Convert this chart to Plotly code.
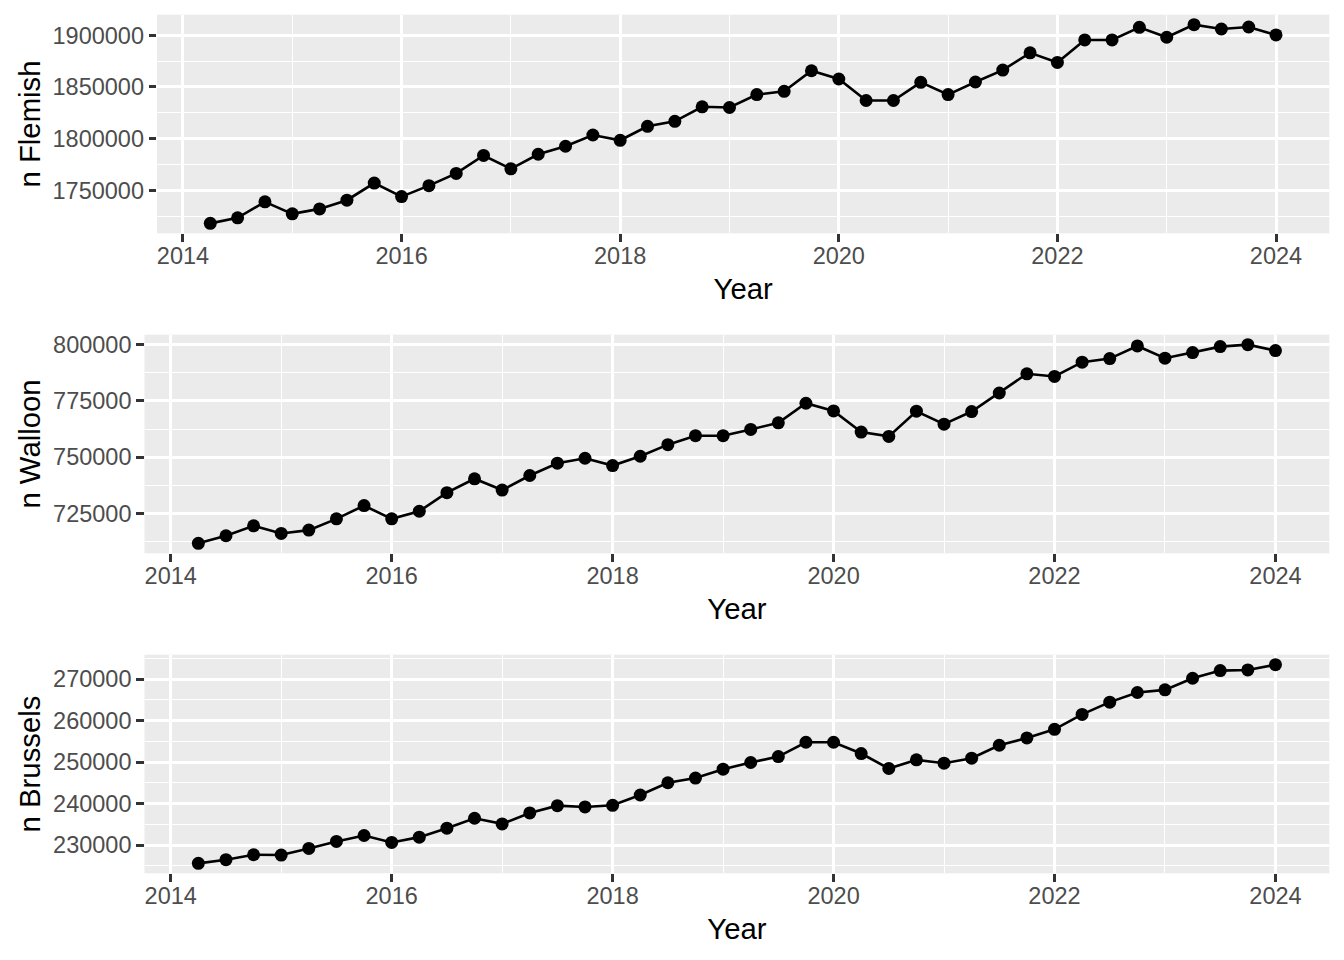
import plotly.graph_objects as go

year = [2014.25, 2014.5, 2014.75, 2015.0, 2015.25, 2015.5, 2015.75, 2016.0,
        2016.25, 2016.5, 2016.75, 2017.0, 2017.25, 2017.5, 2017.75, 2018.0,
        2018.25, 2018.5, 2018.75, 2019.0, 2019.25, 2019.5, 2019.75, 2020.0,
        2020.25, 2020.5, 2020.75, 2021.0, 2021.25, 2021.5, 2021.75, 2022.0,
        2022.25, 2022.5, 2022.75, 2023.0, 2023.25, 2023.5, 2023.75, 2024.0]

flemish = [1718000, 1723400, 1738800, 1727200, 1732000, 1740400, 1757000, 1743900,
           1754500, 1766300, 1783700, 1770800, 1784900, 1792600, 1803500, 1798400,
           1811900, 1816700, 1830800, 1830100, 1842600, 1845800, 1865700, 1857700,
           1836900, 1836900, 1854500, 1842600, 1854800, 1866300, 1883000, 1873700,
           1895500, 1895500, 1907700, 1898100, 1910300, 1906100, 1908000, 1900300]

walloon = [711770, 715150, 719560, 716180, 717650, 722650, 728530, 722650,
           726030, 734270, 740440, 735440, 741910, 747350, 749560, 746320,
           750440, 755590, 759560, 759560, 762350, 765290, 773970, 770590,
           761180, 759270, 770440, 764700, 770300, 778530, 787060, 785880,
           792200, 793820, 799410, 793970, 796470, 799120, 800000, 797350]

brussels = [225600, 226480, 227680, 227600, 229200, 230880, 232320, 230640,
            231920, 234080, 236480, 235120, 237760, 239520, 239200, 239600,
            242080, 245040, 246160, 248320, 249920, 251360, 254800, 254800,
            252080, 248480, 250560, 249760, 250960, 254080, 255840, 257920,
            261520, 264480, 266800, 267440, 270240, 272080, 272240, 273520]

x_ticks = [2014, 2016, 2018, 2020, 2022, 2024]

panels = [
    ("n Flemish", flemish, 50000),
    ("n Walloon", walloon, 25000),
    ("n Brussels", brussels, 10000),
]

# page body has an 8px margin: the figure starts at (8, 8) in the window
OFF = 8
W, H = 1328, 944
# pixel boxes of each panel in window coords: (left, right, top, bottom)
boxes = [
    (157, 1329.3, 14.7, 233.3),
    (144.5, 1329.3, 334.7, 553.3),
    (144.5, 1329.3, 654.7, 873.3),
]


def expand(vals, f=0.05):
    lo, hi = min(vals), max(vals)
    s = hi - lo
    return [lo - f * s, hi + f * s]


FONT = "Liberation Sans"
fig = go.Figure()

for i, (label, vals, step) in enumerate(panels):
    n = i + 1
    xa = "x" if n == 1 else f"x{n}"
    ya = "y" if n == 1 else f"y{n}"
    fig.add_trace(go.Scatter(
        x=year, y=vals, xaxis=xa, yaxis=ya, mode="lines+markers",
        line=dict(color="black", width=2.6),
        marker=dict(color="black", size=13, line=dict(width=0)),
        showlegend=False, hoverinfo="x+y",
    ))
    l, r, t, b = [v - OFF for v in boxes[i]]
    common = dict(
        showline=False, zeroline=False,
        showgrid=True, gridcolor="white", gridwidth=2.8,
        ticks="outside", ticklen=7.3, tickwidth=2.6, tickcolor="#333333",
        tickfont=dict(family=FONT, size=23.5, color="#4D4D4D"),
        title_font=dict(family=FONT, size=29.3, color="black"),
    )
    fig.layout[("xaxis" if n == 1 else f"xaxis{n}")] = dict(
        domain=[l / W, r / W], anchor=ya, range=expand(year),
        tickmode="array", tickvals=x_ticks, ticktext=[str(v) for v in x_ticks],
        minor=dict(dtick=1, tick0=2013, showgrid=True, gridcolor="white",
                   gridwidth=1.4, ticks=""),
        title=dict(text="Year", standoff=10),
        ticklabelstandoff=-6,
        **common,
    )
    fig.layout[("yaxis" if n == 1 else f"yaxis{n}")] = dict(
        domain=[1 - b / H, 1 - t / H], anchor=xa, range=expand(vals),
        dtick=step, tick0=0, tickformat="d",
        minor=dict(dtick=step / 2, tick0=0, showgrid=True, gridcolor="white",
                   gridwidth=1.4, ticks=""),
        title=dict(text=label, standoff=3),
        ticklabelstandoff=0,
        **common,
    )

fig.update_layout(
    width=W, height=H,
    margin=dict(l=0, r=0, t=0, b=0, autoexpand=False),
    paper_bgcolor="white", plot_bgcolor="#EBEBEB",
    font=dict(family=FONT),
)

fig.write_html("out.html")
